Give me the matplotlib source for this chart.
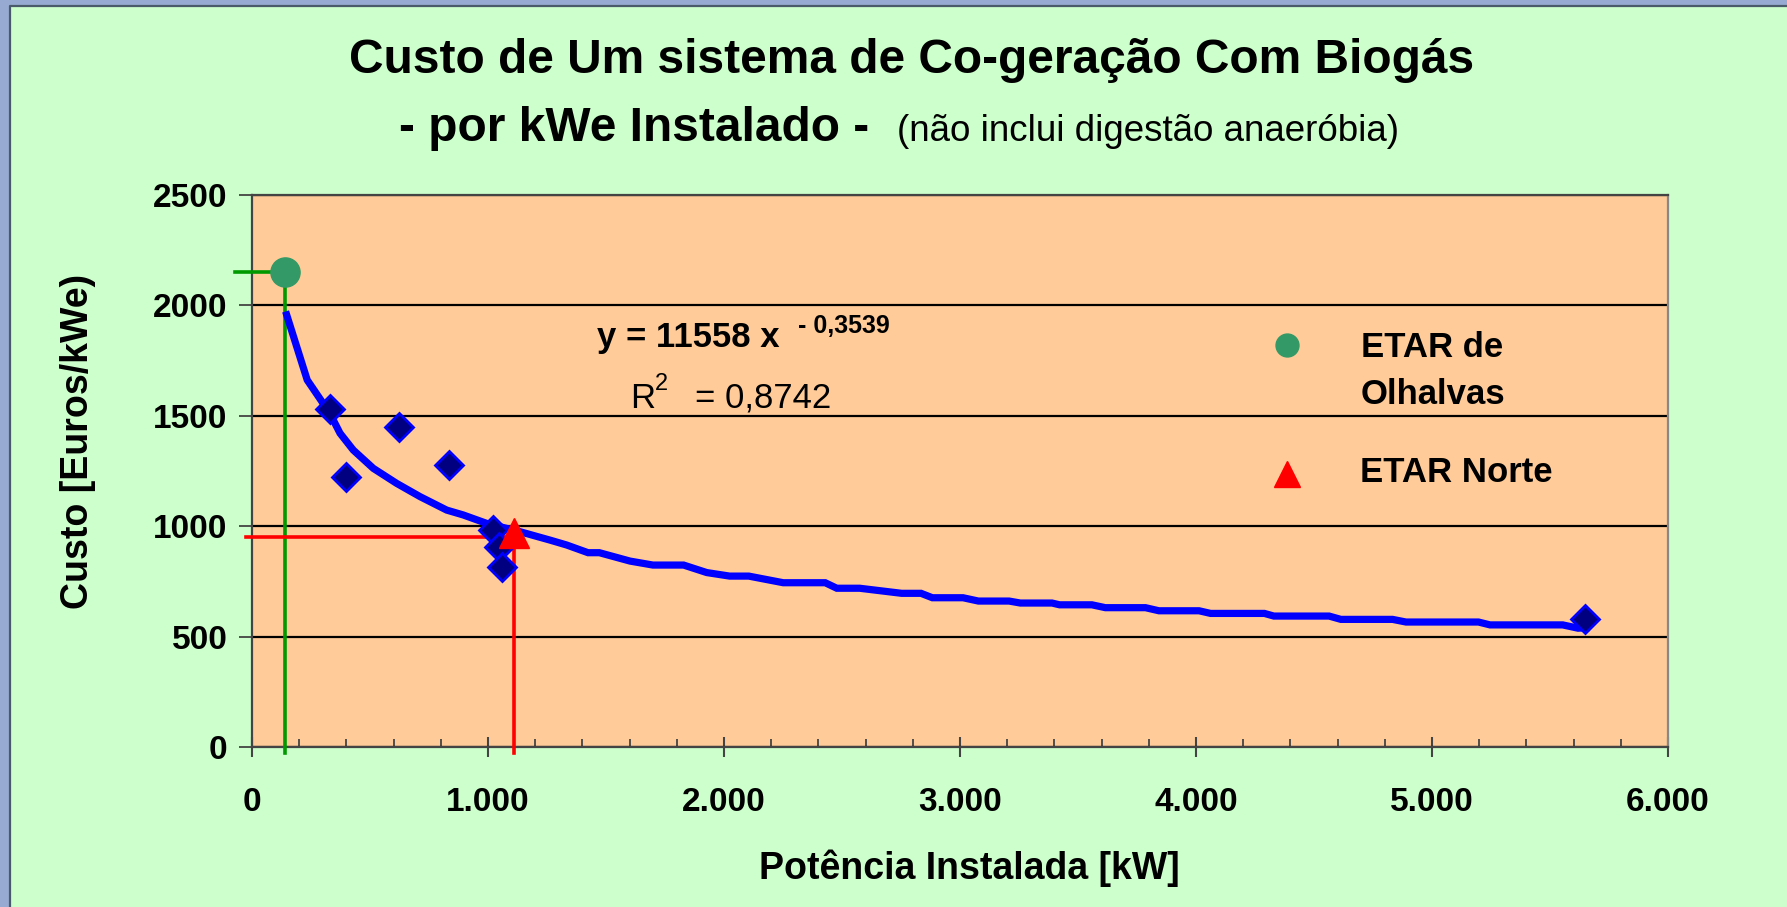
import matplotlib
matplotlib.use("Agg")
import numpy as np
import matplotlib.pyplot as plt
from matplotlib.lines import Line2D
from matplotlib.patches import Rectangle
from matplotlib.ticker import MultipleLocator, FuncFormatter
from matplotlib.legend_handler import HandlerLine2D

# ---------------- data ----------------
diam_x = [330, 398, 624, 836, 1020, 1048, 1058, 5650]
diam_y = [1529, 1224, 1448, 1277, 983, 907, 817, 580]

trend_x = [147, 234, 330, 373, 429, 514, 613, 712, 825, 895, 994, 1136, 1263, 1333,
           1424, 1472, 1602, 1699, 1829, 1927, 2024, 2105, 2251, 2429, 2478, 2575,
           2753, 2835, 2883, 3013, 3078, 3208, 3256, 3390, 3422, 3559, 3616, 3786,
           3843, 4013, 4062, 4290, 4330, 4564, 4614, 4833, 4890, 5197, 5246, 5554,
           5619, 5652]
trend_y = [1957, 1662, 1511, 1421, 1345, 1262, 1194, 1134, 1073, 1051, 1013, 975, 937, 915,
           880, 880, 842, 824, 824, 790, 774, 774, 744, 744, 719, 719,
           696, 696, 676, 676, 661, 661, 652, 652, 644, 644, 631, 631,
           617, 617, 605, 605, 593, 593, 578, 578, 566, 566, 553, 553,
           538, 540]

olhalvas_x, olhalvas_y = 140, 2153
norte_x, norte_y = 1110, 968
norte_ref_y = 952

xticks = [0, 1000, 2000, 3000, 4000, 5000, 6000]
yticks = [0, 500, 1000, 1500, 2000, 2500]

title1 = "Custo de Um sistema de Co-geração Com Biogás"
title2a = "- por kWe Instalado -"
title2b = "(não inclui digestão anaeróbia)"
xlabel = "Potência Instalada [kW]"
ylabel = "Custo [Euros/kWe)"
leg_labels = ["ETAR de\nOlhalvas", "ETAR Norte"]

# ---------------- figure ----------------
W, H = 1787, 907
plt.rcParams['font.family'] = ['Liberation Sans', 'DejaVu Sans']
fig = plt.figure(figsize=(W / 100, H / 100), dpi=100)
fig.patch.set_facecolor('#97abd2')

def fx(px):
    return px / W

def fy(py):
    return 1 - py / H

# green panel with dark top/left edge
fig.add_artist(Rectangle((fx(10), 0), 1 - fx(10), fy(6), transform=fig.transFigure,
                         facecolor='#ccffcc', edgecolor='none', zorder=0))
fig.add_artist(Line2D([fx(10), fx(10), 1], [0, fy(6), fy(6)], transform=fig.transFigure,
                      color='#4a5a6a', linewidth=1.6, zorder=0.5))

ax = fig.add_axes([fx(252), fy(747), fx(1668) - fx(252), fy(195) - fy(747)])
ax.set_facecolor('#ffcc99')
ax.set_xlim(0, 6000)
ax.set_ylim(0, 2500)

for s in ['left', 'top', 'bottom']:
    ax.spines[s].set_color('#444444')
    ax.spines[s].set_linewidth(1.6)
ax.spines['right'].set_color('#888888')
ax.spines['right'].set_linewidth(1.6)

ax.set_yticks(yticks)
ax.set_xticks(xticks)
ax.xaxis.set_minor_locator(MultipleLocator(200))
ax.xaxis.set_major_formatter(FuncFormatter(lambda v, p: f"{int(v):,}".replace(",", ".")))
ax.yaxis.grid(True, color='black', linewidth=1.6)
ax.set_axisbelow(True)
ax.tick_params(axis='y', which='major', direction='out', length=9.5, width=1.3,
               color='#444444', labelsize=24, pad=8)
ax.tick_params(axis='x', which='major', direction='inout', length=14, width=1.5,
               color='#444444', labelsize=24, pad=22)
ax.tick_params(axis='x', which='minor', direction='in', length=6, width=1.3, color='#444444')
for lab in ax.get_xticklabels() + ax.get_yticklabels():
    lab.set_fontweight('bold')

# reference lines
ax.plot([-70, olhalvas_x, olhalvas_x], [olhalvas_y, olhalvas_y, -28], color='#009900',
        linewidth=2.6, clip_on=False, zorder=3)
ax.plot([-27, norte_x, norte_x], [norte_ref_y, norte_ref_y, -28], color='#ff0000',
        linewidth=2.6, clip_on=False, zorder=3)

# trendline
ax.plot(trend_x, trend_y, color='#0000ff', linewidth=5.2, solid_joinstyle='miter',
        zorder=4)

# data points
ax.plot(diam_x, diam_y, linestyle='none', marker='D', markersize=14.5,
        markerfacecolor='#000080', markeredgecolor='#0000ff', markeredgewidth=2, zorder=5)
ax.plot([olhalvas_x], [olhalvas_y], linestyle='none', marker='o', markersize=21,
        markerfacecolor='#339966', markeredgecolor='#339966', zorder=6, clip_on=False)
ax.plot([norte_x], [norte_y], linestyle='none', marker='^', markersize=21,
        markerfacecolor='#ff0000', markeredgecolor='#ff0000', zorder=6)


# legend: handle of the two-line entry aligned with its first line
class ShiftedHandler(HandlerLine2D):
    def __init__(self, shift_pt, **kw):
        super().__init__(**kw)
        self.shift_pt = shift_pt

    def create_artists(self, legend, orig_handle, xdescent, ydescent, width, height,
                       fontsize, trans):
        arts = super().create_artists(legend, orig_handle, xdescent, ydescent, width,
                                      height, fontsize, trans)
        for a in arts:
            a.set_ydata(np.asarray(a.get_ydata(), float) + self.shift_pt)
        return arts


h_circle = Line2D([], [], linestyle='none', marker='o', markersize=16.5,
                  markerfacecolor='#339966', markeredgecolor='#339966')
h_tri = Line2D([], [], linestyle='none', marker='^', markersize=19,
               markerfacecolor='#ff0000', markeredgecolor='#ff0000')
leg = ax.legend([h_circle, h_tri], leg_labels, loc='upper left',
                bbox_to_anchor=((1270 - 252) / 1416, (747 - 331) / 552),
                frameon=False, prop={'weight': 'bold', 'size': 25},
                handlelength=1.0, handletextpad=1.6, labelspacing=1.32, borderpad=0,
                borderaxespad=0,
                handler_map={h_circle: ShiftedHandler(19.3),
                             h_tri: ShiftedHandler(-3.0)})
for t in leg.get_texts():
    t.set_multialignment('center')
    t.set_linespacing(1.52)

# axis labels
ax.set_xlabel(xlabel, fontsize=27, fontweight='bold')
ax.set_ylabel(ylabel, fontsize=27, fontweight='bold')
ax.xaxis.set_label_coords((969 - 252) / 1416, (747 - 868) / 552)
ax.yaxis.set_label_coords((78 - 252) / 1416, (747 - 441) / 552)
ax.xaxis.label.set_va('center')
ax.yaxis.label.set_va('center')

# titles
fig.text(fx(912), fy(73), title1, ha='center', va='baseline', fontsize=34.5, fontweight='bold')
fig.text(fx(399), fy(141), title2a, ha='left', va='baseline', fontsize=34.5, fontweight='bold')
fig.text(fx(897), fy(141), title2b, ha='left', va='baseline', fontsize=26.5)

# equation
fig.text(fx(597), fy(347), "y = 11558 x", ha='left', va='baseline', fontsize=25, fontweight='bold')
fig.text(fx(798), fy(333), "- 0,3539", ha='left', va='baseline', fontsize=18, fontweight='bold')
fig.text(fx(630), fy(408), "R", ha='left', va='baseline', fontsize=25)
fig.text(fx(655), fy(390), "2", ha='left', va='baseline', fontsize=17)
fig.text(fx(695), fy(408), "= 0,8742", ha='left', va='baseline', fontsize=25)

fig.savefig("out.png", dpi=100, facecolor=fig.get_facecolor())
